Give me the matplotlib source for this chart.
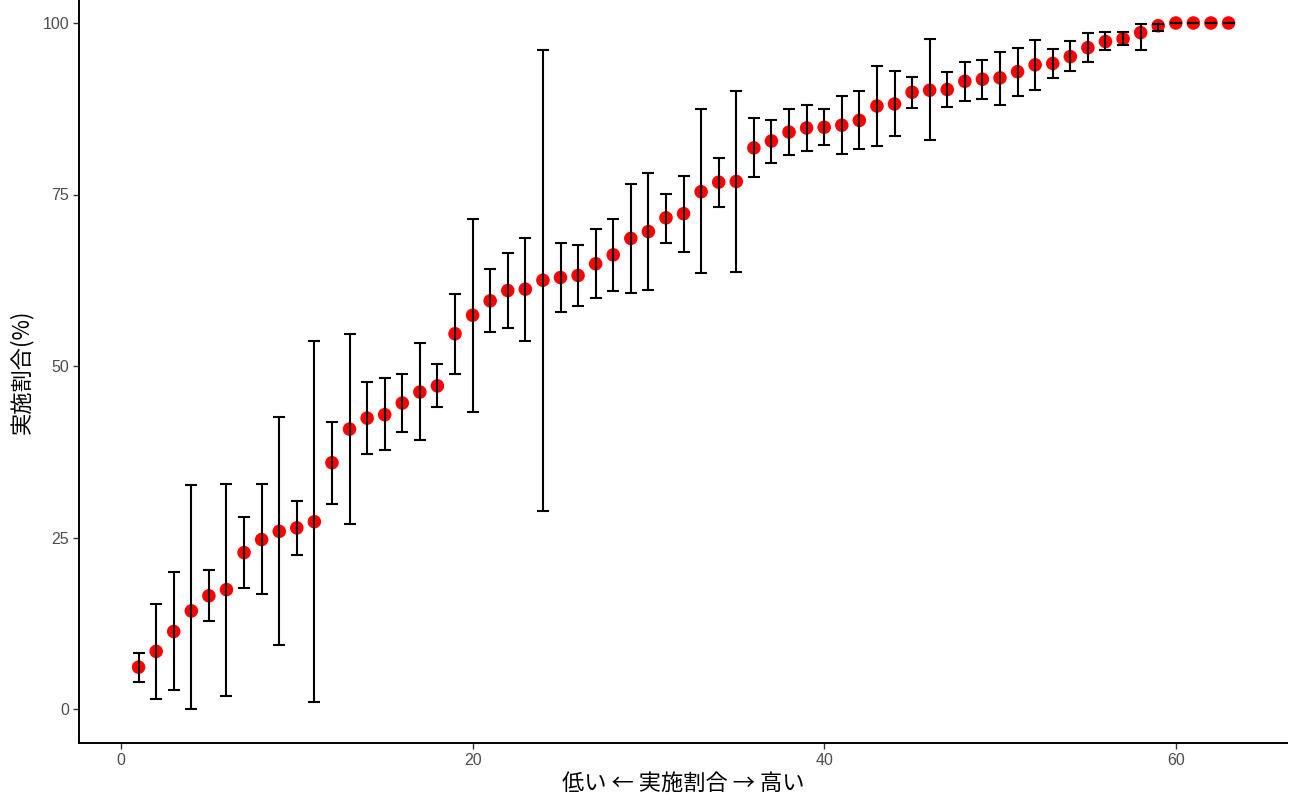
import matplotlib
matplotlib.use("Agg")
import matplotlib.pyplot as plt
import numpy as np

x = list(range(1, 64))
rate = [6.1, 8.4, 11.3, 14.3, 16.5, 17.4, 22.8, 24.7, 25.9, 26.4,
        27.3, 35.9, 40.8, 42.4, 42.9, 44.6, 46.2, 47.1, 54.7, 57.4,
        59.5, 61.0, 61.2, 62.5, 62.9, 63.2, 64.9, 66.2, 68.6, 69.6,
        71.6, 72.2, 75.4, 76.8, 76.9, 81.8, 82.8, 84.1, 84.7, 84.8,
        85.1, 85.8, 87.9, 88.2, 89.9, 90.2, 90.3, 91.5, 91.8, 92.0,
        92.9, 93.9, 94.1, 95.1, 96.4, 97.3, 97.7, 98.6, 99.6, 100.0,
        100.0, 100.0, 100.0]
upper = [8.2, 15.3, 19.9, 32.6, 20.2, 32.8, 28.0, 32.8, 42.6, 30.3,
         53.6, 41.8, 54.7, 47.6, 48.2, 48.9, 53.4, 50.3, 60.5, 71.5,
         64.1, 66.4, 68.6, 96.1, 67.9, 67.7, 69.9, 71.4, 76.5, 78.1,
         75.1, 77.7, 87.5, 80.3, 90.1, 86.2, 85.9, 87.4, 88.1, 87.5,
         89.4, 90.1, 93.8, 93.0, 92.1, 97.6, 92.9, 94.3, 94.6, 95.8,
         96.4, 97.5, 96.2, 97.4, 98.5, 98.7, 98.7, 99.9, 99.9, 100.0,
         100.0, 100.0, 100.0]
lower = [4.0, 1.4, 2.8, 0.0, 12.8, 1.9, 17.7, 16.7, 9.4, 22.4,
         1.0, 29.9, 27.0, 37.2, 37.8, 40.4, 39.2, 44.0, 48.9, 43.3,
         55.0, 55.6, 53.7, 28.9, 57.9, 58.7, 59.9, 61.0, 60.7, 61.1,
         68.0, 66.6, 63.5, 73.2, 63.7, 77.5, 79.6, 80.8, 81.3, 82.2,
         80.9, 81.6, 82.0, 83.6, 87.6, 82.9, 87.7, 88.6, 88.9, 88.1,
         89.3, 90.3, 92.0, 93.0, 94.3, 96.1, 96.8, 96.0, 98.8, 100.0,
         100.0, 100.0, 100.0]

xticks = [0, 20, 40, 60]
yticks = [0, 25, 50, 75, 100]
xlabel = "低い ← 実施割合 → 高い"
ylabel = "実施割合(%)"

W, H = 1290, 801
fig = plt.figure(figsize=(W / 100, H / 100), dpi=100)
left_px, right_px, bottom_px, top_px = 79, 1287, 743, 0
ax = fig.add_axes([left_px / W, 1 - bottom_px / H,
                   (right_px - left_px) / W, (bottom_px - top_px) / H])

xa = np.array(x)
ya = np.array(rate)
yerr = np.vstack([ya - np.array(lower), np.array(upper) - ya])

ax.scatter(xa, ya, s=95, color="#FF0000", edgecolors="none", zorder=2)
ax.errorbar(xa, ya, yerr=yerr, fmt="none", ecolor="black", elinewidth=1.5,
            capsize=4.0, capthick=1.5, zorder=3)

# pixel mapping: x=0 -> 121px, 17.58 px/unit ; y=0 -> 709px, 6.86 px/unit
ax.set_xlim((left_px - 121) / 17.58, (right_px - 121) / 17.58)
ax.set_ylim((709 - bottom_px) / 6.86, (709 - top_px) / 6.86)

ax.set_xticks(xticks)
ax.set_yticks(yticks)
ax.set_xticklabels([str(t) for t in xticks])
ax.set_yticklabels([str(t) for t in yticks])
for s in ["top", "right"]:
    ax.spines[s].set_visible(False)
for s in ["left", "bottom"]:
    ax.spines[s].set_linewidth(1.4)
    ax.spines[s].set_color("black")
ax.tick_params(axis="both", length=4, width=1.0, color="#333333",
               labelcolor="#4D4D4D", labelsize=11.5, pad=3)
for lab in ax.get_xticklabels() + ax.get_yticklabels():
    lab.set_family(["Liberation Sans", "DejaVu Sans"])

ax.set_xlabel(xlabel, family=["Noto Sans CJK JP", "DejaVu Sans"], fontsize=16, labelpad=3)
ax.set_ylabel(ylabel, family=["Noto Sans CJK JP", "DejaVu Sans"], fontsize=16, labelpad=7)

fig.savefig("out.png", dpi=100)
